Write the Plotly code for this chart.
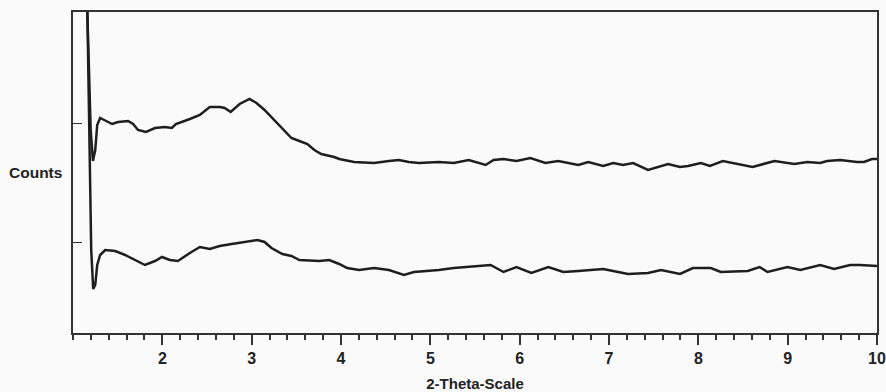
import plotly.graph_objects as go

# 2-theta values and counts (arbitrary units)
theta_upper = [1.137, 1.171, 1.198, 1.223, 1.249, 1.271, 1.304, 1.349, 1.438, 1.505,
               1.617, 1.673, 1.728, 1.817, 1.918, 2.029, 2.107, 2.152, 2.219, 2.308,
               2.420, 2.531, 2.642, 2.698, 2.765, 2.865, 2.976, 3.054, 3.144, 3.255,
               3.344, 3.445, 3.534, 3.624, 3.702, 3.779, 3.924, 3.980, 4.147, 4.370,
               4.537, 4.649, 4.760, 4.872, 5.095, 5.262, 5.430, 5.519, 5.619, 5.708,
               5.819, 5.964, 6.120, 6.288, 6.432, 6.656, 6.768, 6.935, 7.047, 7.158,
               7.270, 7.437, 7.661, 7.795, 7.884, 8.029, 8.129, 8.274, 8.475, 8.607,
               8.852, 8.997, 9.075, 9.219, 9.364, 9.442, 9.587, 9.777, 9.855, 9.944, 10.000]
counts_upper = [393, 273, 203, 172, 183, 208, 215, 213, 209, 211,
                212, 209, 203, 201, 205, 206, 205, 209, 211, 214,
                218, 226, 226, 225, 221, 229, 234, 230, 223, 213,
                205, 195, 192, 189, 183, 179, 176, 174, 171, 170,
                172, 173, 171, 170, 171, 170, 173, 171, 168, 173,
                174, 172, 175, 170, 172, 168, 171, 167, 170, 168,
                170, 163, 169, 166, 167, 170, 167, 172, 168, 166,
                172, 170, 169, 171, 170, 172, 173, 171, 171, 174, 174]

theta_lower = [1.148, 1.182, 1.204, 1.226, 1.249, 1.271, 1.304, 1.360, 1.472, 1.583,
               1.695, 1.806, 1.918, 1.996, 2.085, 2.174, 2.308, 2.420, 2.531, 2.642,
               2.776, 2.921, 3.066, 3.144, 3.222, 3.344, 3.445, 3.534, 3.757, 3.868,
               3.980, 4.069, 4.203, 4.370, 4.537, 4.705, 4.816, 5.095, 5.262, 5.675,
               5.819, 5.964, 6.131, 6.321, 6.489, 6.656, 6.935, 7.102, 7.214, 7.437,
               7.582, 7.795, 7.940, 8.140, 8.252, 8.553, 8.685, 8.774, 8.997, 9.142,
               9.364, 9.520, 9.699, 9.810, 10.000]
counts_lower = [393, 183, 83, 44, 48, 68, 78, 83, 82, 78,
                73, 68, 72, 76, 73, 72, 80, 86, 84, 87,
                89, 91, 93, 91, 85, 79, 77, 73, 72, 73,
                69, 65, 63, 65, 63, 58, 61, 63, 65, 68,
                61, 66, 60, 66, 61, 62, 64, 61, 59, 60,
                63, 59, 65, 65, 61, 62, 66, 61, 66, 63,
                68, 64, 68, 68, 67]

x_ticks = [2, 3, 4, 5, 6, 7, 8, 9, 10]
y_ticks = [91, 210]

FONT = "Liberation Sans, Arial, sans-serif"
LINE = "#1e1e1e"

fig = go.Figure()
for xs, ys in [(theta_upper, counts_upper), (theta_lower, counts_lower)]:
    fig.add_trace(go.Scatter(x=xs, y=ys, mode="lines",
                             line=dict(color=LINE, width=2.5),
                             showlegend=False, hoverinfo="skip"))

fig.update_layout(
    width=886, height=392,
    margin=dict(l=73, r=9, t=12, b=59, autoexpand=False),
    paper_bgcolor="#fafafa", plot_bgcolor="#fafafa",
    font=dict(family=FONT, color="#222"),
    annotations=[dict(text="<b>Counts</b>", xref="paper", yref="paper",
                      x=-0.011, y=0.50, xanchor="right", yanchor="middle",
                      showarrow=False, font=dict(size=15.5, family=FONT, color="#222"))],
)
fig.update_xaxes(
    range=[1, 10], tickvals=x_ticks, ticktext=[f"<b>{v}</b>" for v in x_ticks],
    ticks="outside", ticklen=10, tickwidth=1.8, tickcolor="#333",
    minor=dict(dtick=0.2, tick0=1, ticks="outside", ticklen=5, tickwidth=1.5, tickcolor="#333"),
    showline=True, linecolor="#333", linewidth=2, mirror=True,
    showgrid=False, zeroline=False, automargin=False, ticklabeloverflow="allow",
    tickfont=dict(size=16, family=FONT, color="#222"),
    title=dict(text="<b>2-Theta-Scale</b>", font=dict(size=15, family=FONT, color="#222"), standoff=12),
)
fig.update_yaxes(
    range=[0, 321], tickvals=y_ticks, showticklabels=False,
    ticks="inside", ticklen=9, tickwidth=1.2, tickcolor="#333",
    showline=True, linecolor="#333", linewidth=2, mirror=True,
    showgrid=False, zeroline=False, automargin=False,
)

fig.write_html("out.html")
